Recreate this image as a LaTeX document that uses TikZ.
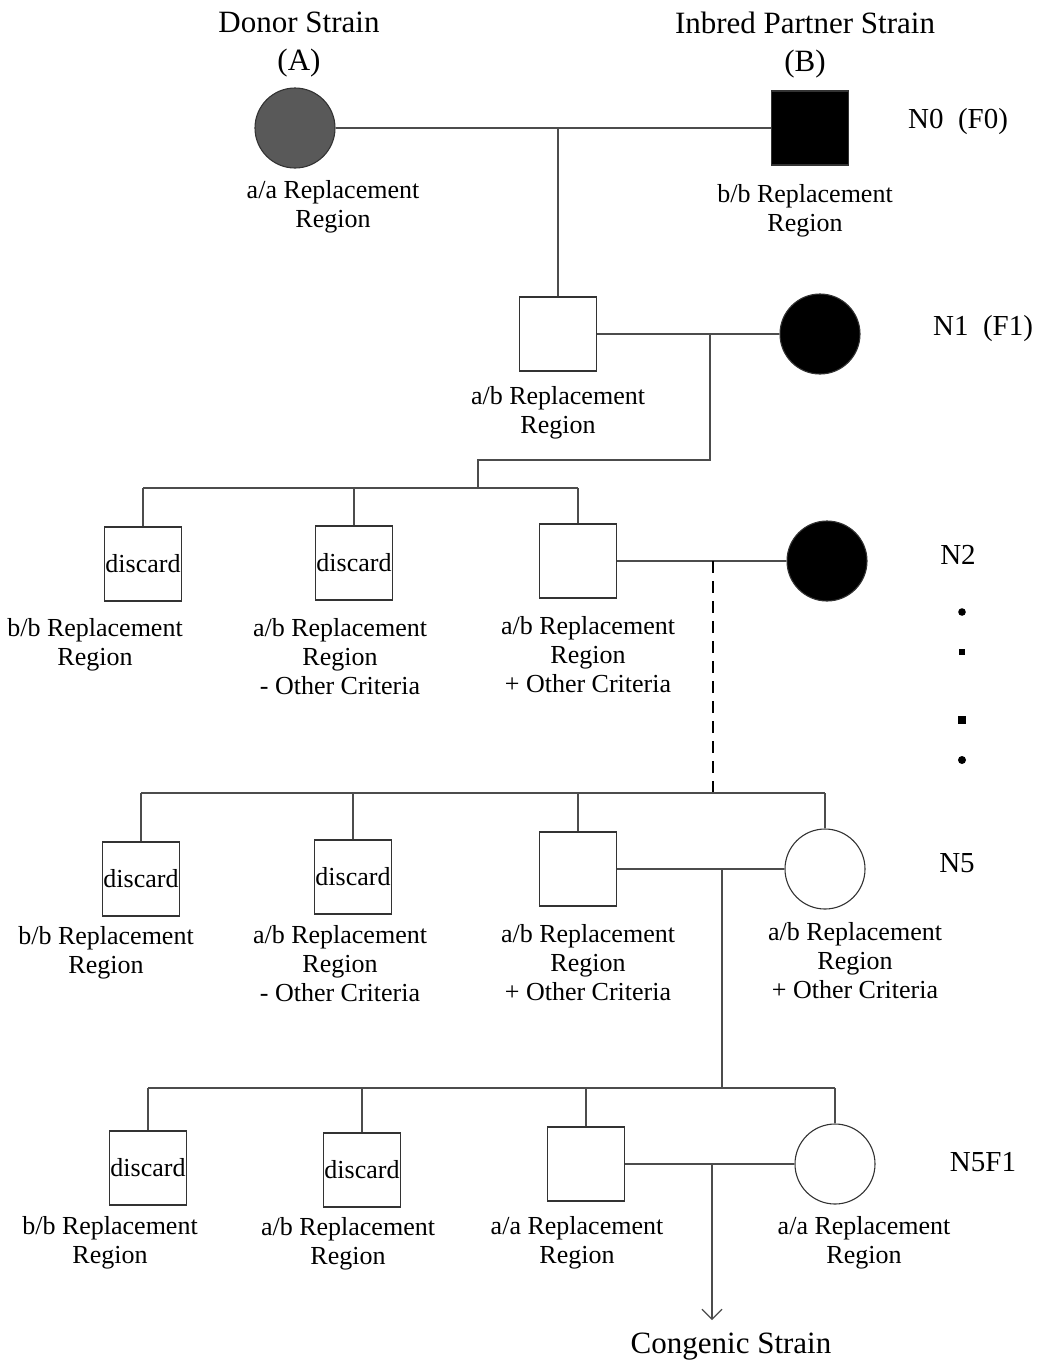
\documentclass[tikz,border=0pt]{standalone}
\usepackage{fontspec}
\setmainfont{Liberation Serif}
\usetikzlibrary{arrows.meta}

\begin{document}
\begin{tikzpicture}[x=0.5pt,y=-0.5pt,
    male/.style={draw=black!80,line width=0.55pt,minimum width=38.5pt,minimum height=37pt,inner sep=0pt,font=\fontsize{13}{14.5}\selectfont},
    female/.style={draw=black!80,line width=0.55pt,circle,minimum size=40pt,inner sep=0pt},
    lab/.style={align=center,inner sep=0pt,yshift=-1.5pt,font=\fontsize{13}{14.5}\selectfont},
    gen/.style={inner sep=0pt,yshift=-1.8pt,font=\fontsize{14.5}{16}\selectfont},
    head/.style={align=center,inner sep=0pt,yshift=-2pt,font=\fontsize{15.5}{19}\selectfont},
    link/.style={draw=black!70,line width=0.55pt}]
  \useasboundingbox (0,0) rectangle (1039,1362);

  \node[head] (donorhd) at (299,41) {Donor Strain\\(A)};
  \node[head] (partnerhd) at (805,41) {Inbred Partner Strain\\(B)};
  \node[female,fill=black!65] (a0) at (295,128) {};
  \node[male,fill=black] (b0) at (810,128) {};
  \node[lab] (a0lab) at (333,204) {a/a Replacement\\Region};
  \node[lab] (b0lab) at (805,208) {b/b Replacement\\Region};
  \node[gen] (n0) at (958,118) {N0\enspace(F0)};

  \node[male] (c1) at (558,334) {};
  \node[female,fill=black] (b1) at (820,334) {};
  \node[lab] (c1lab) at (558,410) {a/b Replacement\\Region};
  \node[gen] (n1) at (983,325) {N1\enspace(F1)};

  \node[male] (d21) at (143,564) {discard};
  \node[male] (d22) at (354,563) {discard};
  \node[male] (s23) at (578,561) {};
  \node[female,fill=black] (b2) at (827,561) {};
  \node[lab] (d21lab) at (95,642) {b/b Replacement\\Region};
  \node[lab] (d22lab) at (340,654) {a/b Replacement\\Region\\- Other Criteria};
  \node[lab] (s23lab) at (588,652) {a/b Replacement\\Region\\+ Other Criteria};
  \node[gen] (n2) at (958,551) {N2};

  \node[male] (d51) at (141,879) {discard};
  \node[male] (d52) at (353,877) {discard};
  \node[male] (s53) at (578,869) {};
  \node[female] (f54) at (825,869) {};
  \node[lab] (d51lab) at (106,950) {b/b Replacement\\Region};
  \node[lab] (d52lab) at (340,961) {a/b Replacement\\Region\\- Other Criteria};
  \node[lab] (s53lab) at (588,960) {a/b Replacement\\Region\\+ Other Criteria};
  \node[lab] (f54lab) at (855,958) {a/b Replacement\\Region\\+ Other Criteria};
  \node[gen] (n5) at (957,860) {N5};

  \node[male] (d61) at (148,1168) {discard};
  \node[male] (d62) at (362,1170) {discard};
  \node[male] (s63) at (586,1164) {};
  \node[female] (f64) at (835,1164) {};
  \node[lab] (d61lab) at (110,1240) {b/b Replacement\\Region};
  \node[lab] (d62lab) at (348,1241) {a/b Replacement\\Region};
  \node[lab] (s63lab) at (577,1240) {a/a Replacement\\Region};
  \node[lab] (f64lab) at (864,1240) {a/a Replacement\\Region};
  \node[gen] (n6) at (983,1158) {N5F1};
  \node[head] (congenic) at (731,1343) {Congenic Strain};

  \coordinate (j1a) at (710,460);
  \coordinate (j1b) at (478,460);
  \coordinate (bar2) at (478,488);
  \coordinate (m2) at (713,561);
  \coordinate (bar5) at (713,793);
  \coordinate (m5) at (722,869);
  \coordinate (bar6) at (722,1088);
  \coordinate (m6) at (712,1164);
  \coordinate (tip) at (712,1320);

  \draw[link] (a0) -- (b0);
  \draw[link] (c1.north) -- (c1.north |- a0);
  \draw[link] (c1) -- (b1);
  \draw[link] (j1a |- c1) -- (j1a) -- (j1b) -- (bar2);
  \draw[link] (d21.north |- bar2) -- (s23.north |- bar2);
  \foreach \k in {d21,d22,s23}
    \draw[link] (\k.north) -- (\k.north |- bar2);

  \draw[link] (s23) -- (b2);
  \draw[link,draw=black,line width=1pt,dash pattern=on 6pt off 4pt] (m2) -- (bar5);
  \draw[link] (d51.north |- bar5) -- (f54.north |- bar5);
  \foreach \k in {d51,d52,s53,f54}
    \draw[link] (\k.north) -- (\k.north |- bar5);

  \draw[link] (s53) -- (f54);
  \draw[link] (m5) -- (bar6);
  \draw[link] (d61.north |- bar6) -- (f64.north |- bar6);
  \foreach \k in {d61,d62,s63,f64}
    \draw[link] (\k.north) -- (\k.north |- bar6);

  \draw[link] (s63) -- (f64);
  \draw[link,-{Straight Barb[length=5pt,width=10pt]}] (m6) -- (tip);

  \fill (962,612) circle (1.9pt);
  \fill (959,649) rectangle +(6,6);
  \fill (958,716) rectangle +(8,8);
  \fill (962,760) circle (2pt);
\end{tikzpicture}
\end{document}
